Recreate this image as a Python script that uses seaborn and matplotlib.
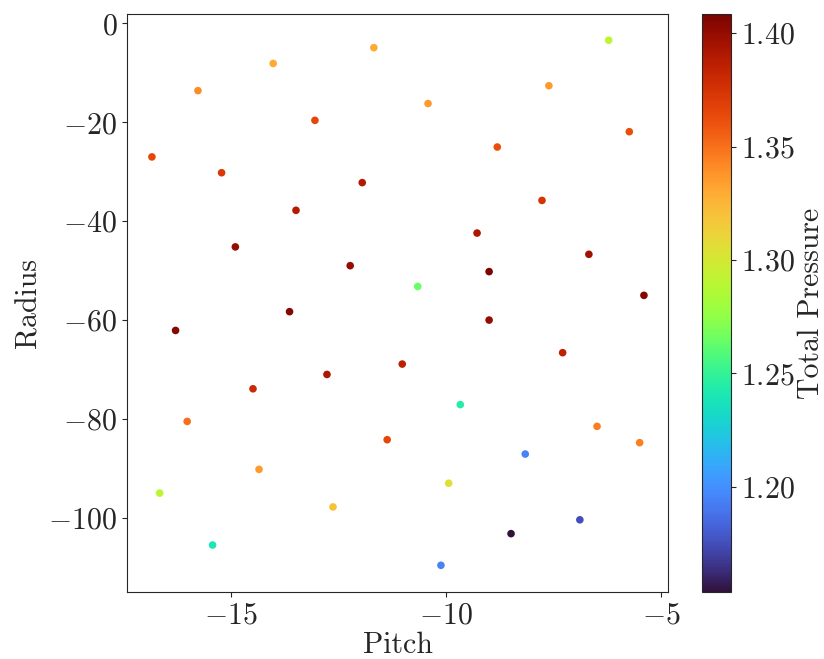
import numpy as np
import matplotlib
matplotlib.use("Agg")
import matplotlib.pyplot as plt
import pandas as pd
import seaborn as sns

# values
pitch = [-11.68, -14.02, -15.77, -13.05, -16.84, -15.22, -11.95, -13.49, -14.90, -12.23,
         -13.64, -16.29, -14.49, -12.77, -11.02, -16.02, -11.37, -14.35, -16.66, -12.63,
         -15.43, -6.22, -7.61, -10.42, -5.74, -8.81, -7.77, -9.28, -6.68, -9.00,
         -10.66, -5.40, -9.00, -7.29, -9.67, -6.49, -5.50, -8.16, -9.94, -6.89,
         -8.49, -10.12]
radius = [-4.9, -8.1, -13.6, -19.6, -27.0, -30.2, -32.2, -37.8, -45.2, -49.0,
          -58.3, -62.1, -73.9, -71.0, -68.9, -80.5, -84.2, -90.2, -95.0, -97.8,
          -105.5, -3.4, -12.6, -16.2, -21.9, -25.0, -35.8, -42.4, -46.7, -50.2,
          -53.2, -55.0, -60.0, -66.6, -77.1, -81.5, -84.8, -87.1, -93.0, -100.4,
          -103.2, -109.6]
total_pressure = [1.330, 1.330, 1.340, 1.365, 1.365, 1.372, 1.390, 1.390, 1.400, 1.400,
                  1.405, 1.405, 1.380, 1.392, 1.385, 1.350, 1.365, 1.335, 1.290, 1.320,
                  1.240, 1.290, 1.335, 1.335, 1.362, 1.362, 1.375, 1.392, 1.396, 1.4084,
                  1.265, 1.405, 1.400, 1.385, 1.245, 1.345, 1.345, 1.195, 1.305, 1.175,
                  1.1536, 1.195]

df = pd.DataFrame({"Pitch": pitch, "Radius": radius, "Total Pressure": total_pressure})

sns.set_style("ticks")
plt.rcParams["font.family"] = "serif"
plt.rcParams["font.serif"] = ["cmr10"]
plt.rcParams["mathtext.fontset"] = "cm"
plt.rcParams["axes.formatter.use_mathtext"] = True
plt.rcParams["axes.unicode_minus"] = True

vmin, vmax = min(total_pressure), max(total_pressure)
fs = 21.5

fig = plt.figure(figsize=(8.24, 6.59), dpi=100)
ax = fig.add_axes([0.1541, 0.1017, 0.6566, 0.877])
cax = fig.add_axes([0.852, 0.1017, 0.0352, 0.877])

sns.scatterplot(data=df, x="Pitch", y="Radius", hue="Total Pressure", palette="turbo",
                hue_norm=(vmin, vmax), s=30, linewidth=0, legend=False, ax=ax)

ax.set_xlim(-17.42, -4.84)
ax.set_ylim(-115.0, 1.9)
ax.set_xticks([-15, -10, -5])
ax.set_yticks([0, -20, -40, -60, -80, -100])
ax.tick_params(labelsize=fs)
ax.set_xlabel("Pitch", fontsize=fs, labelpad=2)
ax.set_ylabel("Radius", fontsize=fs)

sm = plt.cm.ScalarMappable(cmap="turbo", norm=plt.Normalize(vmin, vmax))
cb = fig.colorbar(sm, cax=cax)
cb.set_ticks([1.20, 1.25, 1.30, 1.35, 1.40])
cb.ax.tick_params(labelsize=fs)
cb.set_label("Total Pressure", fontsize=fs, labelpad=2)

fig.savefig("out.png", dpi=100)
